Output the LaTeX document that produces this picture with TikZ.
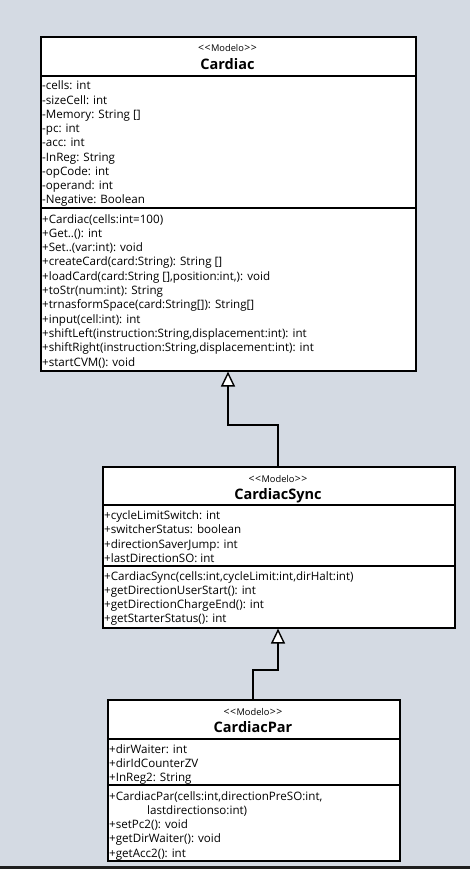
\documentclass[tikz,border=0pt]{standalone}
\usepackage{fontspec}
\setmainfont{Open Sans}
\usetikzlibrary{arrows.meta}
\definecolor{bg}{RGB}{212,218,227}
\definecolor{band}{RGB}{30,30,30}
\newcommand{\chev}[1]{\makebox[6.6pt][c]{\fontsize{10.5}{11}\selectfont#1}}
\newcommand{\stereo}{\chev{<}\chev{<}Modelo\chev{>}\chev{>}}
\begin{document}
\begin{tikzpicture}[x=1pt,y=-1pt,
  box/.style={draw=black,fill=white,line width=1.6pt,anchor=north west,inner sep=0,minimum width=#1},
  sep/.style={line width=1.6pt},
  txt/.style={anchor=base west,inner sep=0,font=\fontsize{11.6}{13}\selectfont},
  stl/.style={anchor=base,inner sep=0,font=\fontsize{9.3}{10}\selectfont},
  ttl/.style={anchor=base,inner sep=0,font=\fontsize{14.5}{16}\selectfont\bfseries},
  gen/.style={line width=1.6pt,-{Triangle[open,fill=white,length=15pt,width=14pt,line width=1.4pt]}}]
\fill[bg] (0,0) rectangle (470,869);
\fill[band] (0,866) rectangle (470,869);
\useasboundingbox (0,0) rectangle (470,869);
% ---------- Cardiac ----------
\node[box=375pt,minimum height=334pt] (cardiac) at (40,36) {};
\draw[sep] (40,76) -- (415,76);
\draw[sep] (40,208) -- (415,208);
\node[stl] (cs) at (227.5,52) {\stereo};
\node[ttl] (ct) at (227.5,70) {Cardiac};
\node[txt] (ca1) at (42,90) {-cells: int};
\node[txt] (ca2) at (42,104.25) {-sizeCell: int};
\node[txt] (ca3) at (42,118.5) {-Memory: String []};
\node[txt] (ca4) at (42,132.75) {-pc: int};
\node[txt] (ca5) at (42,147) {-acc: int};
\node[txt] (ca6) at (42,161.25) {-InReg: String};
\node[txt] (ca7) at (42,175.5) {-opCode: int};
\node[txt] (ca8) at (42,189.75) {-operand: int};
\node[txt] (ca9) at (42,204) {-Negative: Boolean};
\node[txt] (cm1) at (42,223) {+Cardiac(cells:int=100)};
\node[txt] (cm2) at (42,237.3) {+Get..(): int};
\node[txt] (cm3) at (42,251.6) {+Set..(var:int): void};
\node[txt] (cm4) at (42,265.9) {+createCard(card:String): String []};
\node[txt] (cm5) at (42,280.2) {+loadCard(card:String [],position:int,): void};
\node[txt] (cm6) at (42,294.5) {+toStr(num:int): String};
\node[txt] (cm7) at (42,308.8) {+trnasformSpace(card:String[]): String[]};
\node[txt] (cm8) at (42,323.1) {+input(cell:int): int};
\node[txt] (cm9) at (42,337.4) {+shiftLeft(instruction:String,displacement:int): int};
\node[txt] (cm10) at (42,351.7) {+shiftRight(instruction:String,displacement:int): int};
\node[txt] (cm11) at (42,366) {+startCVM(): void};
% ---------- CardiacSync ----------
\node[box=352pt,minimum height=161pt] (sync) at (102,466) {};
\draw[sep] (102,505) -- (454,505);
\draw[sep] (102,566) -- (454,566);
\node[stl] (ss) at (278,482) {\stereo};
\node[ttl] (st) at (278,499) {CardiacSync};
\node[txt] (sa1) at (104,519.5) {+cycleLimitSwitch: int};
\node[txt] (sa2) at (104,533.8) {+switcherStatus: boolean};
\node[txt] (sa3) at (104,548.1) {+directionSaverJump: int};
\node[txt] (sa4) at (104,562.4) {+lastDirectionSO: int};
\node[txt] (sm1) at (104,580) {+CardiacSync(cells:int,cycleLimit:int,dirHalt:int)};
\node[txt] (sm2) at (104,594.3) {+getDirectionUserStart(): int};
\node[txt] (sm3) at (104,608.6) {+getDirectionChargeEnd(): int};
\node[txt] (sm4) at (104,622.9) {+getStarterStatus(): int};
% ---------- CardiacPar ----------
\node[box=292pt,minimum height=161pt] (par) at (107,699) {};
\draw[sep] (107,739) -- (399,739);
\draw[sep] (107,785) -- (399,785);
\node[stl] (ps) at (253,715) {\stereo};
\node[ttl] (pt) at (253,732) {CardiacPar};
\node[txt] (pa1) at (109,753) {+dirWaiter: int};
\node[txt] (pa2) at (109,767.3) {+dirIdCounterZV};
\node[txt] (pa3) at (109,781.6) {+InReg2: String};
\node[txt] (pm1) at (109,800) {+CardiacPar(cells:int,directionPreSO:int,};
\node[txt] (pm2) at (147,814.3) {lastdirectionso:int)};
\node[txt] (pm3) at (109,828.6) {+setPc2(): void};
\node[txt] (pm4) at (109,842.9) {+getDirWaiter(): void};
\node[txt] (pm5) at (109,857.2) {+getAcc2(): int};
% ---------- generalizations ----------
\draw[gen] (sync.north -| 278,0) |- (228,425) -- (cardiac.south -| 228,0);
\draw[gen] (par.north -| 253,0) |- (278,670) -- (sync.south -| 278,0);
\end{tikzpicture}
\end{document}
